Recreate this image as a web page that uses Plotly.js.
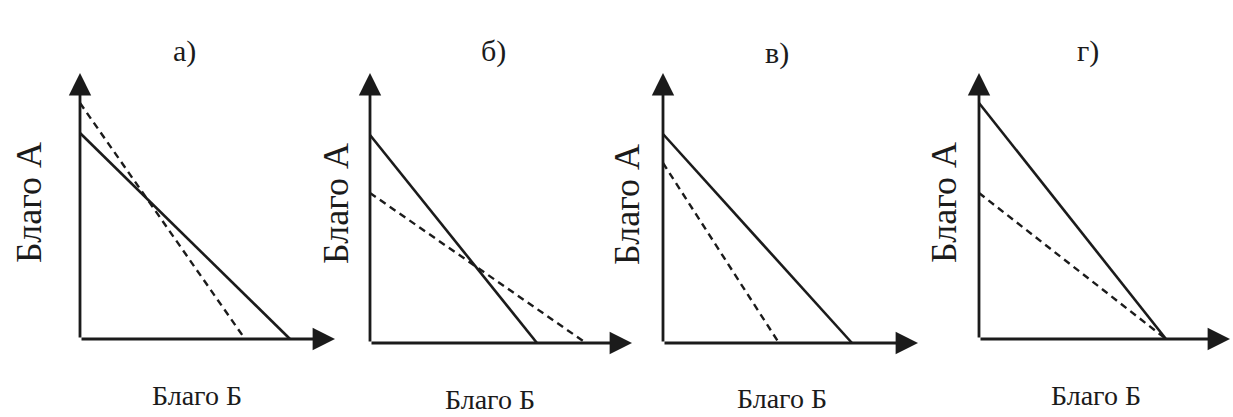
<!DOCTYPE html>
<html>
<head>
<meta charset="utf-8">
<script src="https://cdn.plot.ly/plotly-3.0.1.min.js"></script>
<style>
  html, body { margin: 0; padding: 0; background: #fff; }
  #chart { width: 1233px; height: 417px; }
</style>
</head>
<body>
<div id="chart"></div>
<script>
// ── Data: budget lines in four cases (intercepts in abstract units) ──────

const panelTitles = ['а)', 'б)', 'в)', 'г)'];
const yLabel = 'Благо А';
const xLabel = 'Благо Б';

// solid = initial budget line, dashed = new budget line
const solidA = [10.3, 10.4, 10.45, 11.8];
const solidB = [10.5, 8.35, 9.45, 9.35];
const dashA = [11.8, 7.5, 9.0, 7.3];
const dashB = [8.25, 10.8, 5.8, 9.35];

// axis arrow lengths
const axisX = [12.75, 13.1, 12.75, 12.55];
const axisY = [13.3, 13.5, 13.5, 13.3];

// ── Layout helpers ──────────────────────────────────────────────────────

const W = 1233, H = 417;
const S = 20; // px per unit
const ORIGIN_X = [80, 370, 663, 979];
const ORIGIN_Y = [339, 343, 343, 339];
const TITLE_POS = [[184, 51], [493, 51], [777, 53], [1088, 51]];
const YLAB_POS = [[29, 203], [336, 204], [627, 205], [944, 203]];
const XLAB_POS = [[197, 395], [490, 399], [782, 398], [1096, 395]];

const INK = '#1b1b1b';
const FONT = 'Liberation Serif';

const traces = [];
const annotations = [];
const layout = {
  width: W, height: H,
  margin: { l: 0, r: 0, t: 0, b: 0 },
  paper_bgcolor: '#fff', plot_bgcolor: 'rgba(0,0,0,0)',
  showlegend: false,
  font: { family: FONT, color: INK },
};

function hiddenAxis(extra) {
  return {
    showgrid: false, zeroline: false, showline: false,
    showticklabels: false, ticks: '', fixedrange: true,
    ...extra,
  };
}

function label(text, pos, size, angle) {
  return {
    xref: 'paper', yref: 'paper',
    x: pos[0] / W, y: 1 - pos[1] / H,
    xanchor: 'center', yanchor: 'middle',
    text: text, showarrow: false, textangle: angle || 0,
    font: { size: size, family: FONT, color: INK },
  };
}

panelTitles.forEach((title, i) => {
  const n = i + 1;
  const xa = n === 1 ? 'x' : 'x' + n;
  const ya = n === 1 ? 'y' : 'y' + n;
  const ox = ORIGIN_X[i], oy = ORIGIN_Y[i];

  const dx0 = ox - S, dx1 = Math.min(W, ox + 13 * S + 40);
  const dyTop = oy - 14 * S, dyBot = oy + S;

  layout['xaxis' + (n === 1 ? '' : n)] = hiddenAxis({
    domain: [dx0 / W, dx1 / W],
    range: [(dx0 - ox) / S, (dx1 - ox) / S],
    anchor: ya,
  });
  layout['yaxis' + (n === 1 ? '' : n)] = hiddenAxis({
    domain: [1 - dyBot / H, 1 - dyTop / H],
    range: [-(dyBot - oy) / S, (oy - dyTop) / S],
    anchor: xa,
  });

  traces.push({
    x: [0, solidB[i]], y: [solidA[i], 0],
    xaxis: xa, yaxis: ya,
    type: 'scatter', mode: 'lines',
    line: { color: INK, width: 2.6 },
    hoverinfo: 'skip',
  });
  traces.push({
    x: [0, dashB[i]], y: [dashA[i], 0],
    xaxis: xa, yaxis: ya,
    type: 'scatter', mode: 'lines',
    line: { color: INK, width: 2.4, dash: '7px,5px' },
    hoverinfo: 'skip',
  });

  // axes with arrow heads
  const arrow = {
    xref: xa, yref: ya, axref: xa, ayref: ya,
    ax: 0, ay: 0, text: '', showarrow: true,
    arrowhead: 2, arrowsize: 1.6, arrowwidth: 2.8, arrowcolor: INK,
  };
  annotations.push({ ...arrow, x: axisX[i], y: 0 });
  annotations.push({ ...arrow, x: 0, y: axisY[i] });

  annotations.push(label(title, TITLE_POS[i], 30));
  annotations.push(label(yLabel, YLAB_POS[i], 36, -90));
  annotations.push(label(xLabel, XLAB_POS[i], 28));
});

layout.annotations = annotations;

Plotly.newPlot('chart', traces, layout, { staticPlot: true, displayModeBar: false });
</script>
</body>
</html>
